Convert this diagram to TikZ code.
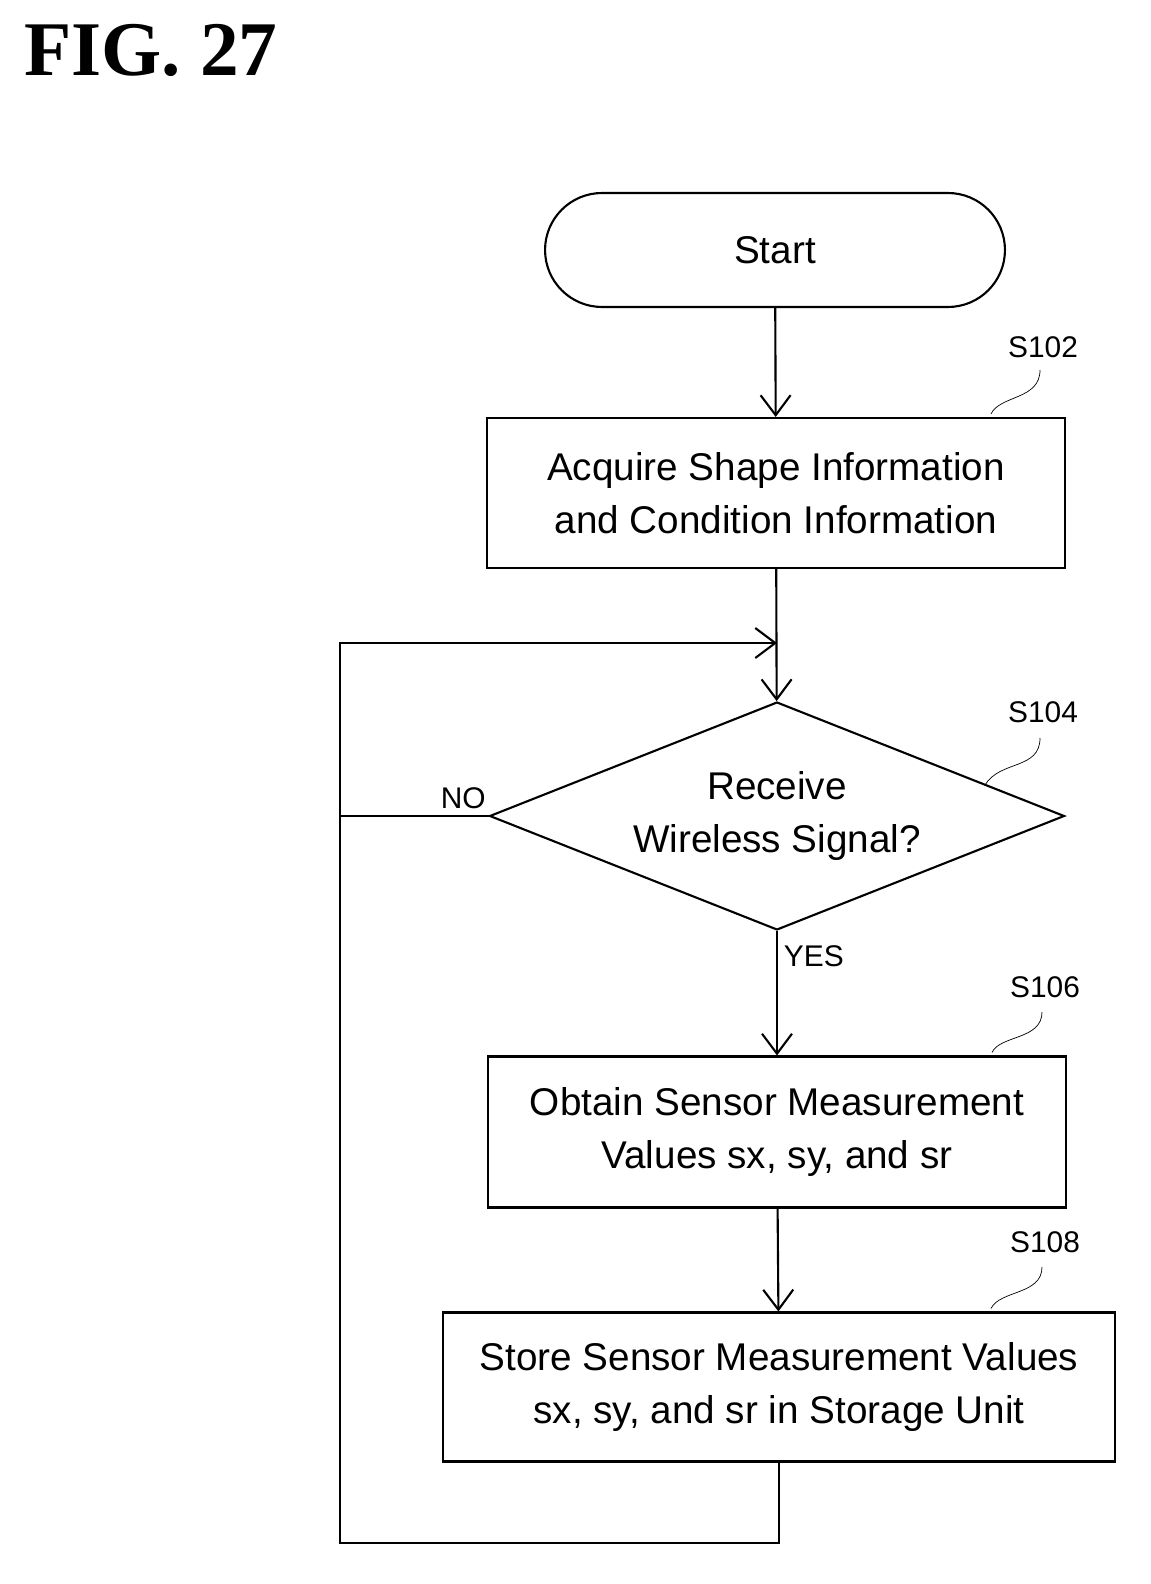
\documentclass[tikz,border=0pt]{standalone}
\usepackage{fontspec}
\setmainfont{Liberation Sans}
\newfontfamily\figfont{Liberation Serif}
\usetikzlibrary{shapes.geometric,arrows.meta}
\tikzset{
    box/.style={ % process boxes
        rectangle,
        draw=black,
        line width=1.2pt,
        align=center,
        font=\fontsize{22}{30}\selectfont
        },
    term/.style={ % start terminal
        box,
        rounded corners=1.14cm,
        minimum width=9.2cm,
        minimum height=2.28cm
        },
    dec/.style={ % decision
        diamond,
        aspect=2.52,
        draw=black,
        line width=1.2pt,
        align=center,
        inner sep=0pt,
        minimum width=11.5cm,
        minimum height=4.56cm,
        font=\fontsize{22}{30}\selectfont
        },
    stlbl/.style={ % step labels
        font=\fontsize{17}{20}\selectfont
        },
    arrout/.style={
        line width=1.2pt,
        -{Straight Barb[length=4mm,width=6mm]}
        },
    ln/.style={
        line width=1.2pt
        }
}
\begin{document}
\begin{tikzpicture}[x=0.02cm,y=-0.02cm]
		\useasboundingbox (0,0) rectangle (1150,1584);
		
		%%%%% title
		\node[font=\figfont\bfseries\fontsize{44}{48}\selectfont,anchor=west] (fig) at (18,50) {FIG. 27};
		
		%%%%% start
		\node[term] (start) at (775,250) {Start};
		
		%%%%% S102
		\node[box,minimum width=11.56cm,minimum height=3cm] (s102) at (776,493) {
			Acquire Shape Information\\and Condition Information};
		\node[stlbl] (l102) at (1043,347) {S102};
		\draw (s102.north east) ++(-75,-3) .. controls (1000,395) and (1040,400) .. (1040,370);
		
		%%%%% S104
		\node[dec] (s104) at (777,816) {Receive\\Wireless Signal?};
		\node[stlbl] (l104) at (1043,712) {S104};
		\draw (985,785) .. controls (1000,760) and (1040,770) .. (1040,738);
		
		%%%%% S106
		\node[box,minimum width=11.56cm,minimum height=3.02cm] (s106) at (777,1132) {
			Obtain Sensor Measurement\\Values sx, sy, and sr};
		\node[stlbl] (l106) at (1045,987) {S106};
		\draw (s106.north east) ++(-75,-3) .. controls (1000,1035) and (1042,1040) .. (1042,1012);
		
		%%%%% S108
		\node[box,minimum width=13.44cm,minimum height=2.98cm] (s108) at (779,1387) {
			Store Sensor Measurement Values\\sx, sy, and sr in Storage Unit};
		\node[stlbl] (l108) at (1045,1242) {S108};
		\draw (s108.north east) ++(-125,-3) .. controls (1000,1290) and (1042,1295) .. (1042,1267);
		
		%%%%% edges
		\coordinate (merge) at (777,643);
		\coordinate (bl) at (340,1543);
		\draw[arrout] (start) -- (s102);
		\draw[arrout] (s102) -- (s104);
		\draw[arrout] (s104) -- node[stlbl,pos=0.2,right] (yes) {YES} (s106);
		\draw[arrout] (s106) -- (s108);
		\draw[ln] (s108.south) |- (bl) |- (merge);
		\draw[arrout] (340,643) -- (merge);
		\draw[ln] (s104.west) -- node[stlbl,above,pos=0.17] (no) {NO} (340,816);
\end{tikzpicture}
\end{document}
